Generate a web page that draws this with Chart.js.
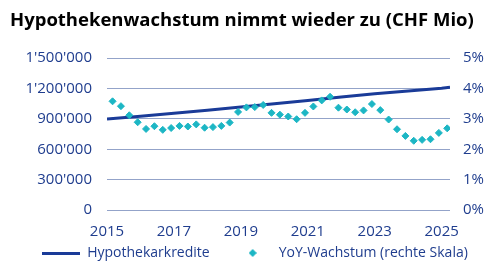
<!DOCTYPE html>
<html>
<head>
<meta charset="utf-8">
<script src="https://cdn.jsdelivr.net/npm/chart.js@4.4.1/dist/chart.umd.min.js"></script>
<style>
  html, body { margin: 0; padding: 0; background: #fff; }
  #wrap { position: relative; width: 500px; height: 276px; }
</style>
</head>
<body>
<div id="wrap"><canvas id="mortgageChart"></canvas></div>
<script>
// Hypothekarkredite (CHF Mio), start of month
const loanDates = ["2015-01", "2016-01", "2017-01", "2018-01", "2019-01", "2020-01",
    "2021-01", "2022-01", "2023-01", "2024-01", "2025-01", "2025-04"];
const loanValues = [900000, 927000, 955000, 985000, 1018000, 1050000,
    1082000, 1116000, 1148000, 1176000, 1204000, 1213000];

// YoY-Wachstum (%), quarterly
const growthDates = [
    "2015-03", "2015-06", "2015-09", "2015-12",
    "2016-03", "2016-06", "2016-09", "2016-12",
    "2017-03", "2017-06", "2017-09", "2017-12",
    "2018-03", "2018-06", "2018-09", "2018-12",
    "2019-03", "2019-06", "2019-09", "2019-12",
    "2020-03", "2020-06", "2020-09", "2020-12",
    "2021-03", "2021-06", "2021-09", "2021-12",
    "2022-03", "2022-06", "2022-09", "2022-12",
    "2023-03", "2023-06", "2023-09", "2023-12",
    "2024-03", "2024-06", "2024-09", "2024-12",
    "2025-03"
];
const growthValues = [
    3.58, 3.42, 3.12, 2.89,
    2.67, 2.76, 2.64, 2.70,
    2.77, 2.75, 2.82, 2.71,
    2.73, 2.77, 2.88, 3.23,
    3.38, 3.39, 3.46, 3.20,
    3.14, 3.08, 2.99, 3.20,
    3.41, 3.61, 3.73, 3.37,
    3.31, 3.22, 3.28, 3.49,
    3.29, 2.98, 2.66, 2.44,
    2.28, 2.31, 2.33, 2.54,
    2.69
];

const xTickYears = [2015, 2017, 2019, 2021, 2023, 2025];
const legendLabels = ["Hypothekarkredite", "YoY-Wachstum (rechte Skala)"];

const NAVY = "#1a3b98";
const TEAL = "#1cb6c4";
const TICK_COLOR = "#1f3d8e";
const GRID_COLOR = "#93a3c9";
const FONT = "'Open Sans', 'Noto Sans', sans-serif";

function toYear(s) {
    const [y, m] = s.split("-").map(Number);
    return y + (m - 1) / 12;
}

function formatSwiss(v) {
    return String(Math.round(v)).replace(/\B(?=(\d{3})+(?!\d))/g, "'");
}

// small images for legend markers
function lineSwatch() {
    const c = document.createElement("canvas");
    c.width = 38; c.height = 3;
    const ctx = c.getContext("2d");
    ctx.fillStyle = NAVY;
    ctx.fillRect(0, 0, 38, 3);
    return c;
}

function diamondSwatch() {
    const c = document.createElement("canvas");
    c.width = 8; c.height = 8;
    const ctx = c.getContext("2d");
    ctx.fillStyle = TEAL;
    ctx.beginPath();
    ctx.moveTo(4, 0); ctx.lineTo(8, 4); ctx.lineTo(4, 8); ctx.lineTo(0, 4);
    ctx.closePath();
    ctx.fill();
    return c;
}

// legend padding also adds vertical space, pull the legend up a bit
const liftLegend = {
    id: "liftLegend",
    afterLayout(chart) {
        const l = chart.legend;
        if (!l) return;
        l.top -= 20;
        l.bottom -= 20;
    }
};

const loanPoints = loanDates.map((d, i) => ({ x: toYear(d), y: loanValues[i] }));
const growthPoints = growthDates.map((d, i) => ({ x: toYear(d), y: growthValues[i] }));

const ctx = document.getElementById("mortgageChart").getContext("2d");
new Chart(ctx, {
    type: "line",
    data: {
        datasets: [
            {
                label: legendLabels[0],
                data: loanPoints,
                yAxisID: "y",
                borderColor: NAVY,
                borderWidth: 3,
                pointRadius: 0,
                tension: 0,
                order: 2
            },
            {
                label: legendLabels[1],
                data: growthPoints,
                yAxisID: "y2",
                showLine: false,
                pointStyle: "rectRot",
                pointRadius: 3.5,
                pointBackgroundColor: TEAL,
                pointBorderColor: TEAL,
                pointBorderWidth: 1,
                order: 1
            }
        ]
    },
    plugins: [liftLegend],
    options: {
        responsive: true,
        maintainAspectRatio: false,
        animation: false,
        layout: { padding: { left: 10, right: 0, top: 0, bottom: -14 } },
        plugins: {
            title: {
                display: true,
                text: "Hypothekenwachstum nimmt wieder zu (CHF Mio)",
                align: "start",
                color: "#000",
                font: { family: FONT, size: 18.5, weight: "bold" },
                padding: { top: 10, bottom: 26 }
            },
            legend: {
                position: "bottom",
                labels: {
                    usePointStyle: true,
                    pointStyleWidth: 38,
                    padding: 24,
                    color: TICK_COLOR,
                    font: { family: FONT, size: 14 },
                    generateLabels: () => [
                        { text: legendLabels[0], pointStyle: lineSwatch(), fontColor: TICK_COLOR, lineWidth: 0, datasetIndex: 0 },
                        { text: legendLabels[1], pointStyle: diamondSwatch(), fontColor: TICK_COLOR, lineWidth: 0, datasetIndex: 1 }
                    ]
                }
            },
            tooltip: { enabled: false }
        },
        scales: {
            x: {
                type: "linear",
                min: 2015,
                max: toYear("2025-04"),
                grid: { display: false, drawTicks: false },
                border: { display: false },
                afterBuildTicks: (scale) => {
                    scale.ticks = xTickYears.map(v => ({ value: v }));
                },
                afterFit: (scale) => { scale.height = 32; },
                ticks: {
                    autoSkip: false,
                    maxRotation: 0,
                    padding: 13,
                    color: TICK_COLOR,
                    font: { family: FONT, size: 15 },
                    callback: (v) => String(v)
                }
            },
            y: {
                position: "left",
                min: 0,
                max: 1500000,
                grid: { color: GRID_COLOR, lineWidth: 1, drawTicks: false },
                border: { display: false },
                afterFit: (scale) => { scale.width = 97; },
                ticks: {
                    stepSize: 300000,
                    padding: 15,
                    color: TICK_COLOR,
                    font: { family: FONT, size: 15 },
                    callback: (v) => formatSwiss(v)
                }
            },
            y2: {
                position: "right",
                min: 0,
                max: 5,
                grid: { drawOnChartArea: false, drawTicks: false },
                border: { display: false },
                afterFit: (scale) => { scale.width = 50; },
                ticks: {
                    stepSize: 1,
                    padding: 13,
                    color: TICK_COLOR,
                    font: { family: FONT, size: 15 },
                    callback: (v) => v + "%"
                }
            }
        }
    }
});
</script>
</body>
</html>
